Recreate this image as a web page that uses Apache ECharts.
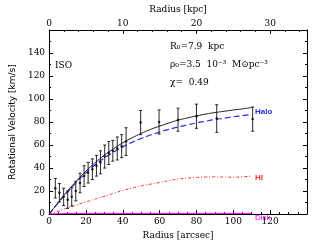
<!DOCTYPE html>
<html><head><meta charset="utf-8">
<script src="https://cdn.jsdelivr.net/npm/echarts@6/dist/echarts.min.js"></script>
<style>html,body{margin:0;padding:0;background:#fff}#c{width:327px;height:245px}</style>
</head><body><div id="c"></div>
<script>
// model radii (arcsec)
const modelR = [0,5,10,15,20,25,30,35,40,45,50,55,60,65,70,75,80,85,90,95,100,105,110];
const haloV  = [0,9.9,19.2,27.9,35.8,42.8,48.7,53.9,58.4,62.3,65.7,68.7,71.3,73.6,75.7,77.5,79.2,80.7,82.1,83.3,84.5,85.5,86.5];
const hiV    = [0,2.5,5.5,8,10.5,13,15.5,18,20.5,22.5,24.5,26,27.5,29,30.5,31.2,31.8,32.2,32.3,32.2,32,32.4,33];
const totalV = [0,10.2,20,29,37.3,44.7,51.1,56.8,61.9,66.2,70.1,73.5,76.4,79.1,81.6,83.5,85.3,86.9,88.2,89.3,90.4,91.4,92.6];
const diskV  = [0,0.3,0.5,0.6,0.6,0.6,0.6,0.6,0.6,0.6,0.6,0.6,0.6,0.6,0.6,0.6,0.6,0.6,0.6,0.6,0.6,0.6,0.6];
// observed points
const obsR = [3.4,5.6,7.9,10.1,12.3,14.5,16.8,19.0,21.2,23.5,25.7,27.9,30.2,32.4,34.6,37.0,39.4,41.8,49.7,59.7,70,80,91,110.5];
const obsV = [22.5,18.5,15,12.5,15,20,27,33,36,39,42,45,50,53,55,57,59,63,79.5,80,82,85,83,82.5];
const obsE = [8.5,8,7.5,7.5,8,8.5,8.5,9,9,9,9,10,10,10,9,10,10,12,10.5,10.5,10,10.5,12,10.5];

const zip = (a,b)=>a.map((x,i)=>[x,b[i]]);
const font = 'DejaVu Serif';
const chart = echarts.init(document.getElementById('c'), null, {renderer:'canvas'});
const tickCommon = {inside:true, length:4, lineStyle:{color:'#000', width:1}};
const minorCommon = {show:true, length:2, lineStyle:{color:'#000', width:1}};
chart.setOption({
  animation:false,
  backgroundColor:'#fff',
  grid:{left:35, right:20, top:26, bottom:24, containLabel:false},
  xAxis:[
    {type:'value', position:'bottom', min:0, max:140, interval:20,
     name:'Radius [arcsec]', nameLocation:'middle', nameGap:14,
     nameTextStyle:{fontFamily:font, fontSize:9, color:'#000'},
     axisLine:{show:true, onZero:false, lineStyle:{color:'#000', width:1}},
     axisTick:tickCommon, minorTick:Object.assign({splitNumber:4}, minorCommon),
     splitLine:{show:false},
     axisLabel:{fontFamily:font, fontSize:9, color:'#000', margin:3, showMaxLabel:false}},
    {type:'value', position:'top', min:0, max:35, interval:10,
     name:'Radius [kpc]', nameLocation:'middle', nameGap:15,
     nameTextStyle:{fontFamily:font, fontSize:9, color:'#000'},
     axisLine:{show:true, onZero:false, lineStyle:{color:'#000', width:1}},
     axisTick:tickCommon, minorTick:Object.assign({splitNumber:5}, minorCommon),
     splitLine:{show:false},
     axisLabel:{fontFamily:font, fontSize:9, color:'#000', margin:2, showMaxLabel:false}},
  ],
  yAxis:[
    {type:'value', position:'left', min:0, max:160, interval:20,
     name:'Rotational Velocity [km/s]', nameLocation:'middle', nameGap:25,
     nameTextStyle:{fontFamily:'DejaVu Sans', fontSize:9, color:'#000'},
     axisLine:{show:true, onZero:false, lineStyle:{color:'#000', width:1}},
     axisTick:tickCommon, minorTick:Object.assign({splitNumber:2}, minorCommon),
     splitLine:{show:false},
     axisLabel:{fontFamily:font, fontSize:9, color:'#000', margin:4, showMaxLabel:false}},
    {type:'value', position:'right', min:0, max:160, interval:20,
     axisLine:{show:true, onZero:false, lineStyle:{color:'#000', width:1}},
     axisTick:tickCommon, minorTick:Object.assign({splitNumber:2}, minorCommon),
     splitLine:{show:false}, axisLabel:{show:false}}
  ],
  series:[
    {type:'line', name:'HI', data:zip(modelR,hiV), symbol:'none', smooth:true,
     lineStyle:{color:'#ff3030', width:1, type:[3,2,1,2]}},
    {type:'line', name:'Disk', data:zip(modelR,diskV), symbol:'none',
     lineStyle:{color:'#ff00ff', width:1}},
    {type:'line', name:'Halo', data:zip(modelR,haloV), symbol:'none', smooth:true,
     lineStyle:{color:'#2a2aee', width:1.2, type:[6,3]}},
    {type:'line', name:'Total', data:zip(modelR,totalV), symbol:'none', smooth:true,
     lineStyle:{color:'#222', width:1}},
    {type:'custom', name:'err',
     data:obsR.map((r,i)=>[r, obsV[i]-obsE[i], obsV[i]+obsE[i]]),
     renderItem:function(params, api){
       const x=api.value(0), lo=api.value(1), hi=api.value(2);
       const p1=api.coord([x,lo]), p2=api.coord([x,hi]);
       const c=1.5, st={stroke:'#111', lineWidth:0.9};
       return {type:'group', children:[
         {type:'line', shape:{x1:p1[0],y1:p1[1],x2:p2[0],y2:p2[1]}, style:st},
         {type:'line', shape:{x1:p1[0]-c,y1:p1[1],x2:p1[0]+c,y2:p1[1]}, style:st},
         {type:'line', shape:{x1:p2[0]-c,y1:p2[1],x2:p2[0]+c,y2:p2[1]}, style:st}
       ]};
     }, z:5},
    {type:'scatter', name:'obs', data:zip(obsR,obsV), symbol:'circle', symbolSize:2.5,
     itemStyle:{color:'#000'}, z:6}
  ],
  graphic:[
    {type:'text', left:55, top:61, style:{text:'ISO', font:'9px "DejaVu Serif"', fill:'#000'}},
    {type:'text', left:170, top:42, style:{text:'R\u2080=7.9  kpc', font:'9px "DejaVu Serif"', fill:'#000'}},
    {type:'text', left:170, top:60, style:{text:'\u03c1\u2080=3.5  10\u207b\u00b3  M\u2299pc\u207b\u00b3', font:'9px "DejaVu Serif"', fill:'#000'}},
    {type:'text', left:170, top:78, style:{text:'\u03c7=  0.49', font:'9px "DejaVu Serif"', fill:'#000'}},
    {type:'text', left:255, top:108, style:{text:'Halo', font:'bold 8px "Liberation Sans"', fill:'#2a2aee'}},
    {type:'text', left:255, top:174, style:{text:'HI', font:'bold 8px "Liberation Sans"', fill:'#ff3030'}},
    {type:'text', left:255, top:214, style:{text:'Disk', font:'8px "Liberation Sans"', fill:'#ff00ff'}}
  ]
});
</script></body></html>
